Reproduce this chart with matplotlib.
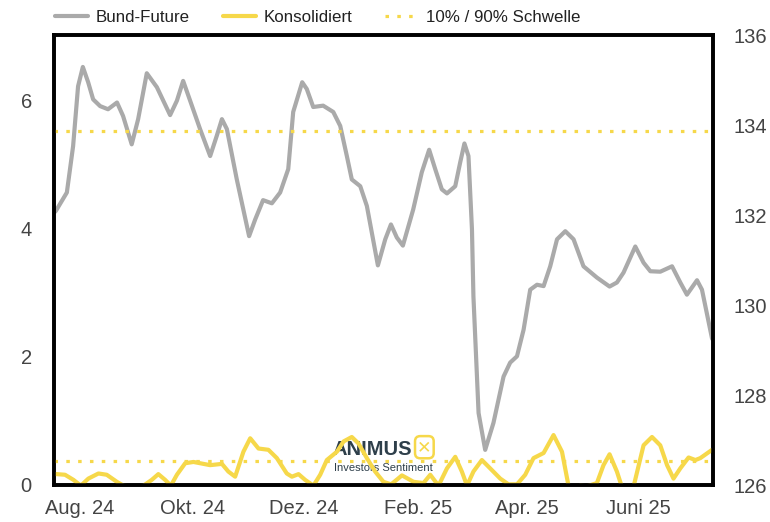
import numpy as np
import matplotlib
matplotlib.use("Agg")
import matplotlib.pyplot as plt

plt.rcParams['font.family'] = ['Liberation Sans', 'DejaVu Sans']

# x values: days relative to 2024-08-01
bund_days = [-14.2, -13.2, -7.2, -3.8, -1.1, 1.5, 4.4, 7.1, 10.9, 15.2, 20.1, 23.4, 28.1, 31.6,
             36.3, 41.8, 49.0, 52.7, 56.1, 59.9, 65.3, 70.8, 74.4, 77.2, 79.9, 85.3, 92.0, 95.3,
             99.6, 104.4, 108.9, 113.3, 116.0, 120.9, 123.4, 126.9, 132.3, 137.8, 141.6, 145.2,
             147.9, 152.5, 156.1, 162.1, 166.1, 169.2, 172.4, 175.7, 181.3, 186.0, 190.0, 193.3,
             196.9, 199.7, 204.2, 206.9, 209.2, 211.4, 213.3, 214.1, 216.9, 220.5, 225.0, 230.5,
             234.1, 237.8, 241.4, 245.0, 248.7, 252.3, 255.9, 259.6, 264.1, 268.6, 274.0, 281.3,
             288.2, 292.2, 295.8, 302.2, 306.7, 310.4, 315.8, 322.2, 326.7, 330.3, 335.8, 338.5,
             344.0]
bund_values = [132.05, 132.09, 132.50, 133.53, 134.86, 135.29, 134.95, 134.57, 134.42, 134.35,
               134.50, 134.20, 133.57, 134.13, 135.15, 134.84, 134.22, 134.54, 134.98, 134.54,
               133.91, 133.31, 133.76, 134.13, 133.91, 132.79, 131.53, 131.90, 132.33, 132.26,
               132.50, 133.02, 134.29, 134.95, 134.80, 134.40, 134.43, 134.29, 133.98, 133.31,
               132.79, 132.64, 132.20, 130.88, 131.46, 131.79, 131.50, 131.32, 132.12, 132.95,
               133.45, 133.02, 132.57, 132.48, 132.64, 133.17, 133.59, 133.31, 131.68, 130.19,
               127.60, 126.78, 127.38, 128.41, 128.72, 128.86, 129.45, 130.34, 130.45, 130.42,
               130.86, 131.46, 131.64, 131.46, 130.86, 130.61, 130.41, 130.50, 130.72, 131.30,
               130.94, 130.75, 130.74, 130.86, 130.50, 130.23, 130.55, 130.34, 129.25]

kons_days = [-14.2, -12.7, -8.2, -3.6, 0.4, 4.5, 10.0, 14.5, 20.0, 23.6, 28.9, 34.5, 39.0, 42.6,
             46.3, 49.4, 52.7, 57.2, 61.7, 70.8, 77.2, 80.7, 84.4, 88.9, 92.6, 97.1, 102.5, 107.1,
             112.5, 115.3, 118.9, 122.5, 127.0, 130.7, 134.3, 139.8, 143.4, 147.9, 151.5, 156.1,
             160.6, 165.1, 169.3, 175.2, 181.5, 186.9, 190.6, 195.1, 199.7, 204.2, 207.8, 210.6,
             214.1, 218.7, 223.2, 228.7, 233.2, 237.8, 242.3, 246.8, 252.3, 257.7, 262.3, 265.9,
             269.5, 272.2, 275.9, 281.3, 284.9, 288.2, 292.2, 294.9, 297.8, 301.3, 306.7, 311.3,
             315.8, 319.5, 323.0, 326.7, 331.2, 334.9, 337.6, 344.0]
kons_values = [0.17, 0.17, 0.16, 0.08, -0.01, 0.10, 0.18, 0.16, 0.05, -0.01, -0.03, -0.01, 0.08,
               0.17, 0.08, -0.01, 0.16, 0.34, 0.36, 0.31, 0.33, 0.21, 0.13, 0.52, 0.73, 0.57,
               0.55, 0.42, 0.18, 0.13, 0.17, 0.08, -0.01, 0.16, 0.39, 0.52, 0.68, 0.75, 0.65,
               0.42, 0.21, 0.05, 0.01, 0.15, 0.05, 0.03, 0.16, -0.01, 0.26, 0.44, 0.21, -0.01,
               0.21, 0.39, 0.26, 0.10, 0.01, 0.01, 0.16, 0.42, 0.50, 0.78, 0.52, -0.02, -0.08,
               -0.01, -0.02, 0.03, 0.31, 0.48, 0.21, -0.03, -0.08, -0.02, 0.62, 0.75, 0.62, 0.31,
               0.10, 0.26, 0.43, 0.39, 0.42, 0.55]

thresholds = [0.375, 5.53]

tick_days = [0, 61, 122, 184, 243, 304]
tick_labels = ["Aug. 24", "Okt. 24", "Dez. 24", "Feb. 25", "Apr. 25", "Juni 25"]
left_ticks = [0, 2, 4, 6]
right_ticks = [126, 128, 130, 132, 134, 136]

gray = "#aaaaaa"
yellow = "#f6d84a"
txt = "#444444"

fig = plt.figure(figsize=(7.7, 5.22), dpi=100)
ax1 = fig.add_axes([54 / 770, 1 - 485 / 522, (713 - 54) / 770, (485 - 35) / 522])
ax2 = ax1.twinx()
ax1.set_zorder(ax2.get_zorder() + 1)
ax1.patch.set_visible(False)

# watermark
ax1.text(0.483, 0.078, "ANIMUS", transform=ax1.transAxes, fontsize=14.5, fontweight="bold",
         color="#2e3f4a", ha="center", va="center", zorder=0.5,
         family=["Liberation Sans Narrow", "Liberation Sans"])
ax1.text(0.562, 0.084, "✕", transform=ax1.transAxes, fontsize=12.5, color=yellow, ha="center",
         va="center", zorder=0.5, family=["DejaVu Sans"], fontweight="bold",
         bbox=dict(boxstyle="round,pad=0.12,rounding_size=0.3", fc="none", ec=yellow, lw=1.8))
ax1.text(0.50, 0.038, "Investors Sentiment", transform=ax1.transAxes, fontsize=8,
         color="#2e3f4a", ha="center", va="center", zorder=0.5)

l2, = ax2.plot(bund_days, bund_values, color=gray, lw=3, solid_capstyle="round",
               solid_joinstyle="round", label="Bund-Future")
l1, = ax1.plot(kons_days, kons_values, color=yellow, lw=3, solid_capstyle="round",
               solid_joinstyle="round", label="Konsolidiert")
lt = None
for t in thresholds:
    lt = ax1.axhline(t, color=yellow, lw=2.3, linestyle=(0, (1.1, 2.6)), dash_capstyle="butt",
                     label="10% / 90% Schwelle")

ax1.set_xlim(-14.2, 344.5)
ax1.set_ylim(0, 7.03)
ax2.set_ylim(126, 136)

ax1.set_xticks(tick_days)
ax1.set_xticklabels(tick_labels)
ax1.set_yticks(left_ticks)
ax2.set_yticks(right_ticks)

ax1.tick_params(axis="x", length=0, pad=10, labelsize=14.5, labelcolor=txt)
ax1.tick_params(axis="y", length=0, pad=20, labelsize=14.5, labelcolor=txt)
ax2.tick_params(axis="y", length=0, pad=15, labelsize=14.5, labelcolor=txt)
for lab in ax1.get_yticklabels():
    lab.set_horizontalalignment("center")

for ax in (ax1, ax2):
    for s in ax.spines.values():
        s.set_color("black")
        s.set_linewidth(2.6)

fig.legend([l2, l1, lt], ["Bund-Future", "Konsolidiert", "10% / 90% Schwelle"],
           loc="center left", bbox_to_anchor=(55 / 770, 1 - 17 / 522), ncol=3, frameon=False,
           fontsize=12.2, handlelength=1.95, handletextpad=0.45, columnspacing=1.95,
           borderpad=0, borderaxespad=0, labelcolor="#222222")

fig.savefig("out.png", dpi=100)
